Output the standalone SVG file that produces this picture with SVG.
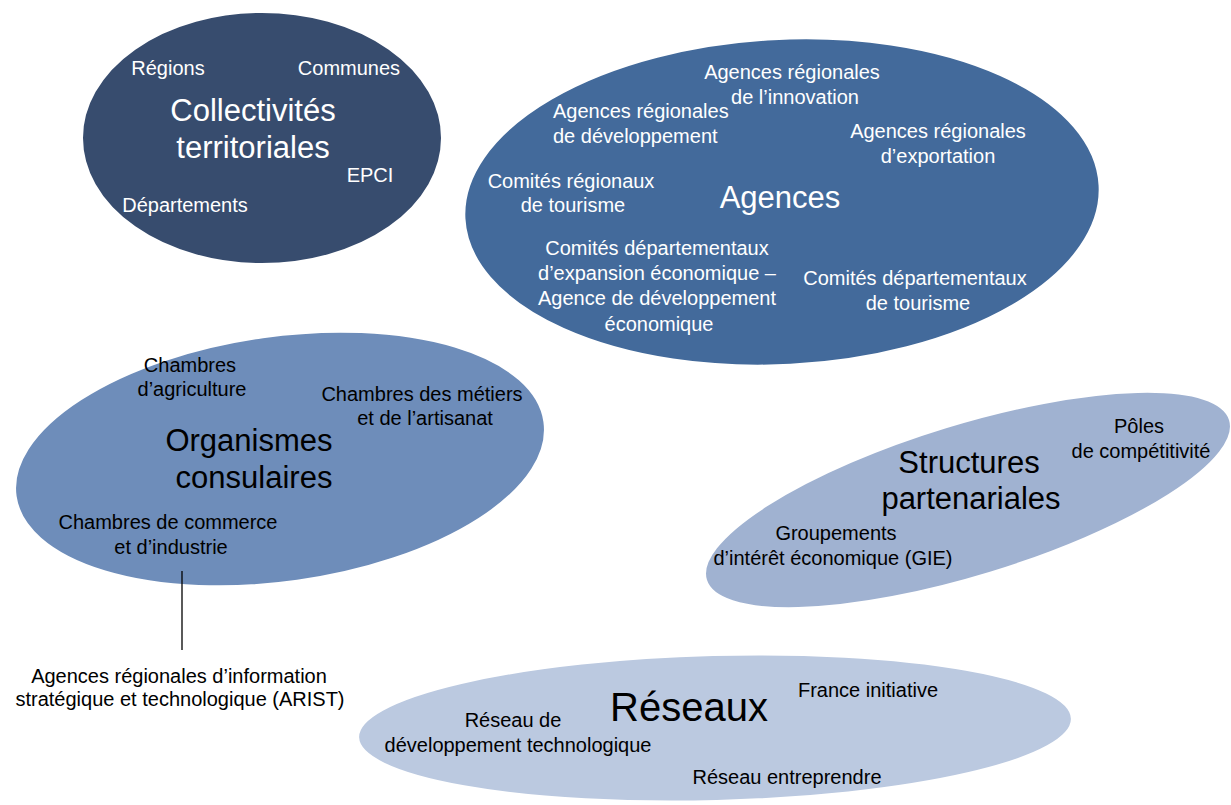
<svg xmlns="http://www.w3.org/2000/svg" width="1231" height="805" viewBox="0 0 1231 805">
<style>
text{font-family:"Liberation Sans",Arial,sans-serif;text-anchor:middle}
.w{fill:#ffffff}
.k{fill:#000000}
.s{font-size:20px}
.b{font-size:31px}
.e{stroke:#ffffff;stroke-width:2}
</style>
<rect width="1231" height="805" fill="#ffffff"/>
<g id="reseaux">
<ellipse class="e" cx="715" cy="728" rx="357" ry="73" transform="rotate(-1.5 715 728)" fill="#bbc9e0"/>
<text class="k" x="689" y="721" font-size="40">Réseaux</text>
<text class="k s" x="868" y="697">France initiative</text>
<text class="k s" x="513" y="727">Réseau de</text>
<text class="k s" x="518" y="752">développement technologique</text>
<text class="k s" x="787" y="784">Réseau entreprendre</text>
</g>
<g id="structures">
<ellipse class="e" cx="968" cy="500" rx="274" ry="76" transform="rotate(-17 968 500)" fill="#a0b2d1"/>
<text class="k s" x="1139" y="433">Pôles</text>
<text class="k s" x="1141" y="458">de compétitivité</text>
<text class="k b" x="969" y="473">Structures</text>
<text class="k b" x="971" y="509">partenariales</text>
<text class="k s" x="836" y="540">Groupements</text>
<text class="k s" x="833" y="565">d’intérêt économique (GIE)</text>
</g>
<g id="agences">
<ellipse class="e" cx="782" cy="202" rx="318" ry="163" transform="rotate(-3 782 202)" fill="#436a9b"/>
<text class="w s" x="792" y="79">Agences régionales</text>
<text class="w s" x="795" y="104">de l’innovation</text>
<text class="w s" x="553" y="118" style="text-anchor:start">Agences régionales</text>
<text class="w s" x="553" y="143" style="text-anchor:start">de développement</text>
<text class="w s" x="938" y="138">Agences régionales</text>
<text class="w s" x="938" y="163">d’exportation</text>
<text class="w s" x="571" y="188">Comités régionaux</text>
<text class="w s" x="573" y="212">de tourisme</text>
<text class="w b" x="780" y="208">Agences</text>
<text class="w s" x="657" y="255">Comités départementaux</text>
<text class="w s" x="657" y="280">d’expansion économique –</text>
<text class="w s" x="657" y="305">Agence de développement</text>
<text class="w s" x="659" y="331">économique</text>
<text class="w s" x="915" y="285">Comités départementaux</text>
<text class="w s" x="918" y="310">de tourisme</text>
</g>
<g id="organismes">
<ellipse class="e" cx="280" cy="459" rx="267" ry="123" transform="rotate(-8 280 459)" fill="#6e8dba"/>
<text class="k s" x="190" y="372">Chambres</text>
<text class="k s" x="192" y="396">d’agriculture</text>
<text class="k s" x="422" y="401">Chambres des métiers</text>
<text class="k s" x="425" y="425">et de l’artisanat</text>
<text class="k b" x="249" y="451">Organismes</text>
<text class="k b" x="254" y="488">consulaires</text>
<text class="k s" x="168" y="529">Chambres de commerce</text>
<text class="k s" x="171" y="554">et d’industrie</text>
</g>
<g id="collectivites">
<ellipse class="e" cx="262" cy="138" rx="180" ry="126" fill="#374c6e"/>
<text class="w s" x="168" y="75">Régions</text>
<text class="w s" x="349" y="75">Communes</text>
<text class="w b" x="253" y="121">Collectivités</text>
<text class="w b" x="253" y="158">territoriales</text>
<text class="w s" x="370" y="182">EPCI</text>
<text class="w s" x="185" y="212">Départements</text>
</g>
<g id="arist">
<text class="k s" x="179" y="683">Agences régionales d’information</text>
<text class="k s" x="180" y="706">stratégique et technologique (ARIST)</text>
</g>
<g id="connectors">
<line x1="182" y1="571" x2="182" y2="650" stroke="#000000" stroke-width="1.3"/>
</g>
</svg>
